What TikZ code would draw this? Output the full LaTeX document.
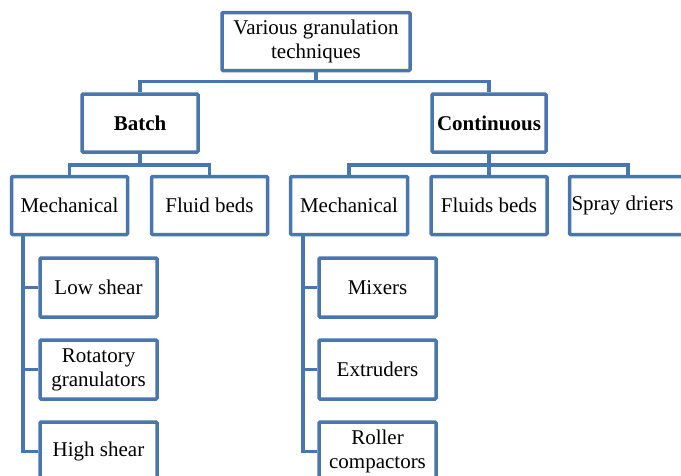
\documentclass[tikz,border=0pt]{standalone}
\usepackage{fontspec}
\setmainfont{Liberation Serif}
\begin{document}
\begin{tikzpicture}[x=1pt,y=-1pt,
  box/.style={draw=boxblue,line width=3.5pt,rounded corners=1pt,fill=white,
    align=center,inner sep=0pt,font=\fontsize{21}{24}\selectfont,minimum height=58pt},
  link/.style={draw=boxblue,line width=3.5pt}]
\definecolor{boxblue}{HTML}{4A76AE}
\useasboundingbox (0,0) rectangle (681,475);
\clip (0,0) rectangle (681,475);
\node[box,minimum width=188pt] (top) at (316,41.5) {Various granulation\\techniques};
\node[box,minimum width=116pt,font=\fontsize{21}{24}\selectfont\bfseries] (batch) at (140,123) {Batch};
\node[box,minimum width=114pt,font=\fontsize{21}{24}\selectfont\bfseries] (cont) at (489,123) {Continuous};
\node[box,minimum width=116pt] (mechL) at (69.5,205.5) {Mechanical};
\node[box,minimum width=116pt] (fluidL) at (209.5,205.5) {Fluid beds};
\node[box,minimum width=117pt,text width=113pt,align=flush left] (spray) at (628,205.5) {Spray driers};
\node[box,minimum width=117pt] (mechR) at (349,205.5) {Mechanical};
\node[box,minimum width=116pt] (fluidR) at (489,205.5) {Fluids beds};
\node[box,minimum width=117pt,minimum height=59pt] (low) at (98.5,287.5) {Low shear};
\node[box,minimum width=117pt,minimum height=59pt] (rot) at (98.5,369.5) {Rotatory\\granulators};
\node[box,minimum width=117pt,minimum height=59pt] (high) at (98.5,451.5) {High shear};
\node[box,minimum width=117pt,minimum height=59pt] (mix) at (377.5,287.5) {Mixers};
\node[box,minimum width=117pt,minimum height=59pt] (ext) at (377.5,369.5) {Extruders};
\node[box,minimum width=117pt,minimum height=59pt] (roll) at (377.5,451.5) {Roller\\compactors};
\coordinate (barA) at (0,81.5);
\coordinate (barB) at (0,165);
\coordinate (stemL) at (23,0);
\coordinate (stemR) at (303,0);
\draw[link] (top.south) -- (top.south |- barA) -| (batch.north);
\draw[link] (top.south |- barA) -| (cont.north);
\draw[link] (batch.south) -- (batch.south |- barB) -| (mechL.north);
\draw[link] (batch.south |- barB) -| (fluidL.north);
\draw[link] (cont.south) -- (cont.south |- barB) -| (mechR.north);
\draw[link] (cont.south |- barB) -| (spray.north);
\draw[link] (cont.south |- barB) -- (fluidR.north);
\draw[link] (mechL.south -| stemL) |- (high.west);
\draw[link] (stemL |- low.west) -- (low.west);
\draw[link] (stemL |- rot.west) -- (rot.west);
\draw[link] (mechR.south -| stemR) |- (roll.west);
\draw[link] (stemR |- mix.west) -- (mix.west);
\draw[link] (stemR |- ext.west) -- (ext.west);
\end{tikzpicture}
\end{document}
